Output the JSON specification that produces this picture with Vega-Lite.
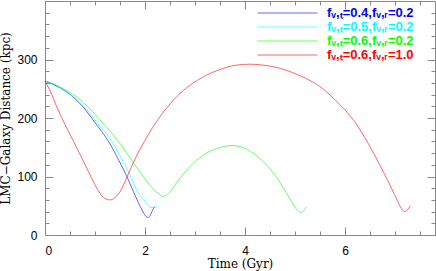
{
  "$schema": "https://vega.github.io/schema/vega-lite/v6.json",
  "width": 390,
  "height": 234,
  "autosize": "none",
  "padding": {"left": 45, "top": 1, "right": 1, "bottom": 36},
  "background": "white",
  "config": {
    "view": {"stroke": null},
    "axis": {
      "grid": false,
      "domainColor": "#888888",
      "tickColor": "#888888",
      "labelColor": "#000000",
      "labelFont": "Liberation Sans",
      "labelFontSize": 12,
      "titleFont": "DejaVu Serif",
      "titleFontSize": 12,
      "titleFontWeight": "normal",
      "titleColor": "#000000"
    }
  },
  "data": {
    "values": [
      {"s": "fᵥ,ₜ=0.4,fᵥ,ᵣ=0.2", "t": 0, "d": 263},
      {"s": "fᵥ,ₜ=0.4,fᵥ,ᵣ=0.2", "t": 0.2, "d": 256},
      {"s": "fᵥ,ₜ=0.4,fᵥ,ᵣ=0.2", "t": 0.405, "d": 246},
      {"s": "fᵥ,ₜ=0.4,fᵥ,ᵣ=0.2", "t": 0.6, "d": 233},
      {"s": "fᵥ,ₜ=0.4,fᵥ,ᵣ=0.2", "t": 0.77, "d": 218},
      {"s": "fᵥ,ₜ=0.4,fᵥ,ᵣ=0.2", "t": 1.0, "d": 192},
      {"s": "fᵥ,ₜ=0.4,fᵥ,ᵣ=0.2", "t": 1.27, "d": 160},
      {"s": "fᵥ,ₜ=0.4,fᵥ,ᵣ=0.2", "t": 1.45, "d": 132},
      {"s": "fᵥ,ₜ=0.4,fᵥ,ᵣ=0.2", "t": 1.62, "d": 103},
      {"s": "fᵥ,ₜ=0.4,fᵥ,ᵣ=0.2", "t": 1.77, "d": 74},
      {"s": "fᵥ,ₜ=0.4,fᵥ,ᵣ=0.2", "t": 1.92, "d": 46},
      {"s": "fᵥ,ₜ=0.4,fᵥ,ᵣ=0.2", "t": 2.0, "d": 34},
      {"s": "fᵥ,ₜ=0.4,fᵥ,ᵣ=0.2", "t": 2.05, "d": 30},
      {"s": "fᵥ,ₜ=0.4,fᵥ,ᵣ=0.2", "t": 2.1, "d": 33},
      {"s": "fᵥ,ₜ=0.4,fᵥ,ᵣ=0.2", "t": 2.15, "d": 42},
      {"s": "fᵥ,ₜ=0.4,fᵥ,ᵣ=0.2", "t": 2.19, "d": 49},

      {"s": "fᵥ,ₜ=0.5,fᵥ,ᵣ=0.2", "t": 0, "d": 263},
      {"s": "fᵥ,ₜ=0.5,fᵥ,ᵣ=0.2", "t": 0.2, "d": 257},
      {"s": "fᵥ,ₜ=0.5,fᵥ,ᵣ=0.2", "t": 0.4, "d": 247},
      {"s": "fᵥ,ₜ=0.5,fᵥ,ᵣ=0.2", "t": 0.6, "d": 234},
      {"s": "fᵥ,ₜ=0.5,fᵥ,ᵣ=0.2", "t": 0.8, "d": 218},
      {"s": "fᵥ,ₜ=0.5,fᵥ,ᵣ=0.2", "t": 1.05, "d": 191},
      {"s": "fᵥ,ₜ=0.5,fᵥ,ᵣ=0.2", "t": 1.34, "d": 160},
      {"s": "fᵥ,ₜ=0.5,fᵥ,ᵣ=0.2", "t": 1.52, "d": 132},
      {"s": "fᵥ,ₜ=0.5,fᵥ,ᵣ=0.2", "t": 1.7, "d": 103},
      {"s": "fᵥ,ₜ=0.5,fᵥ,ᵣ=0.2", "t": 1.85, "d": 74},
      {"s": "fᵥ,ₜ=0.5,fᵥ,ᵣ=0.2", "t": 2.0, "d": 58},
      {"s": "fᵥ,ₜ=0.5,fᵥ,ᵣ=0.2", "t": 2.08, "d": 49},
      {"s": "fᵥ,ₜ=0.5,fᵥ,ᵣ=0.2", "t": 2.12, "d": 47},
      {"s": "fᵥ,ₜ=0.5,fᵥ,ᵣ=0.2", "t": 2.18, "d": 47},
      {"s": "fᵥ,ₜ=0.5,fᵥ,ᵣ=0.2", "t": 2.24, "d": 49},

      {"s": "fᵥ,ₜ=0.6,fᵥ,ᵣ=0.2", "t": 0, "d": 263},
      {"s": "fᵥ,ₜ=0.6,fᵥ,ᵣ=0.2", "t": 0.2, "d": 257},
      {"s": "fᵥ,ₜ=0.6,fᵥ,ᵣ=0.2", "t": 0.45, "d": 246},
      {"s": "fᵥ,ₜ=0.6,fᵥ,ᵣ=0.2", "t": 0.65, "d": 235},
      {"s": "fᵥ,ₜ=0.6,fᵥ,ᵣ=0.2", "t": 0.87, "d": 218},
      {"s": "fᵥ,ₜ=0.6,fᵥ,ᵣ=0.2", "t": 1.15, "d": 192},
      {"s": "fᵥ,ₜ=0.6,fᵥ,ᵣ=0.2", "t": 1.47, "d": 160},
      {"s": "fᵥ,ₜ=0.6,fᵥ,ᵣ=0.2", "t": 1.7, "d": 132},
      {"s": "fᵥ,ₜ=0.6,fᵥ,ᵣ=0.2", "t": 1.94, "d": 103},
      {"s": "fᵥ,ₜ=0.6,fᵥ,ᵣ=0.2", "t": 2.15, "d": 80},
      {"s": "fᵥ,ₜ=0.6,fᵥ,ᵣ=0.2", "t": 2.3, "d": 69},
      {"s": "fᵥ,ₜ=0.6,fᵥ,ᵣ=0.2", "t": 2.36, "d": 66},
      {"s": "fᵥ,ₜ=0.6,fᵥ,ᵣ=0.2", "t": 2.45, "d": 69},
      {"s": "fᵥ,ₜ=0.6,fᵥ,ᵣ=0.2", "t": 2.67, "d": 94},
      {"s": "fᵥ,ₜ=0.6,fᵥ,ᵣ=0.2", "t": 2.97, "d": 123},
      {"s": "fᵥ,ₜ=0.6,fᵥ,ᵣ=0.2", "t": 3.23, "d": 140},
      {"s": "fᵥ,ₜ=0.6,fᵥ,ᵣ=0.2", "t": 3.45, "d": 148},
      {"s": "fᵥ,ₜ=0.6,fᵥ,ᵣ=0.2", "t": 3.73, "d": 153},
      {"s": "fᵥ,ₜ=0.6,fᵥ,ᵣ=0.2", "t": 3.95, "d": 150},
      {"s": "fᵥ,ₜ=0.6,fᵥ,ᵣ=0.2", "t": 4.16, "d": 140},
      {"s": "fᵥ,ₜ=0.6,fᵥ,ᵣ=0.2", "t": 4.28, "d": 132},
      {"s": "fᵥ,ₜ=0.6,fᵥ,ᵣ=0.2", "t": 4.5, "d": 113},
      {"s": "fᵥ,ₜ=0.6,fᵥ,ᵣ=0.2", "t": 4.7, "d": 90},
      {"s": "fᵥ,ₜ=0.6,fᵥ,ᵣ=0.2", "t": 4.9, "d": 62},
      {"s": "fᵥ,ₜ=0.6,fᵥ,ᵣ=0.2", "t": 5.05, "d": 42},
      {"s": "fᵥ,ₜ=0.6,fᵥ,ᵣ=0.2", "t": 5.12, "d": 38},
      {"s": "fᵥ,ₜ=0.6,fᵥ,ᵣ=0.2", "t": 5.18, "d": 42},
      {"s": "fᵥ,ₜ=0.6,fᵥ,ᵣ=0.2", "t": 5.23, "d": 48},

      {"s": "fᵥ,ₜ=0.6,fᵥ,ᵣ=1.0", "t": 0, "d": 263},
      {"s": "fᵥ,ₜ=0.6,fᵥ,ᵣ=1.0", "t": 0.1, "d": 247},
      {"s": "fᵥ,ₜ=0.6,fᵥ,ᵣ=1.0", "t": 0.24, "d": 218},
      {"s": "fᵥ,ₜ=0.6,fᵥ,ᵣ=1.0", "t": 0.4, "d": 189},
      {"s": "fᵥ,ₜ=0.6,fᵥ,ᵣ=1.0", "t": 0.57, "d": 160},
      {"s": "fᵥ,ₜ=0.6,fᵥ,ᵣ=1.0", "t": 0.74, "d": 131},
      {"s": "fᵥ,ₜ=0.6,fᵥ,ᵣ=1.0", "t": 0.9, "d": 103},
      {"s": "fᵥ,ₜ=0.6,fᵥ,ᵣ=1.0", "t": 1.05, "d": 78},
      {"s": "fᵥ,ₜ=0.6,fᵥ,ᵣ=1.0", "t": 1.17, "d": 64},
      {"s": "fᵥ,ₜ=0.6,fᵥ,ᵣ=1.0", "t": 1.3, "d": 60},
      {"s": "fᵥ,ₜ=0.6,fᵥ,ᵣ=1.0", "t": 1.4, "d": 64},
      {"s": "fᵥ,ₜ=0.6,fᵥ,ᵣ=1.0", "t": 1.5, "d": 74},
      {"s": "fᵥ,ₜ=0.6,fᵥ,ᵣ=1.0", "t": 1.65, "d": 101},
      {"s": "fᵥ,ₜ=0.6,fᵥ,ᵣ=1.0", "t": 1.8, "d": 130},
      {"s": "fᵥ,ₜ=0.6,fᵥ,ᵣ=1.0", "t": 1.98, "d": 159},
      {"s": "fᵥ,ₜ=0.6,fᵥ,ᵣ=1.0", "t": 2.2, "d": 190},
      {"s": "fᵥ,ₜ=0.6,fᵥ,ᵣ=1.0", "t": 2.45, "d": 219},
      {"s": "fᵥ,ₜ=0.6,fᵥ,ᵣ=1.0", "t": 2.7, "d": 242},
      {"s": "fᵥ,ₜ=0.6,fᵥ,ᵣ=1.0", "t": 2.95, "d": 259},
      {"s": "fᵥ,ₜ=0.6,fᵥ,ᵣ=1.0", "t": 3.2, "d": 272},
      {"s": "fᵥ,ₜ=0.6,fᵥ,ᵣ=1.0", "t": 3.5, "d": 283},
      {"s": "fᵥ,ₜ=0.6,fᵥ,ᵣ=1.0", "t": 3.8, "d": 290},
      {"s": "fᵥ,ₜ=0.6,fᵥ,ᵣ=1.0", "t": 4.1, "d": 292},
      {"s": "fᵥ,ₜ=0.6,fᵥ,ᵣ=1.0", "t": 4.4, "d": 290},
      {"s": "fᵥ,ₜ=0.6,fᵥ,ᵣ=1.0", "t": 4.7, "d": 285},
      {"s": "fᵥ,ₜ=0.6,fᵥ,ᵣ=1.0", "t": 5.0, "d": 276},
      {"s": "fᵥ,ₜ=0.6,fᵥ,ᵣ=1.0", "t": 5.3, "d": 264},
      {"s": "fᵥ,ₜ=0.6,fᵥ,ᵣ=1.0", "t": 5.56, "d": 250},
      {"s": "fᵥ,ₜ=0.6,fᵥ,ᵣ=1.0", "t": 5.8, "d": 231},
      {"s": "fᵥ,ₜ=0.6,fᵥ,ᵣ=1.0", "t": 6.0, "d": 214},
      {"s": "fᵥ,ₜ=0.6,fᵥ,ᵣ=1.0", "t": 6.19, "d": 194},
      {"s": "fᵥ,ₜ=0.6,fᵥ,ᵣ=1.0", "t": 6.4, "d": 166},
      {"s": "fᵥ,ₜ=0.6,fᵥ,ᵣ=1.0", "t": 6.59, "d": 137},
      {"s": "fᵥ,ₜ=0.6,fᵥ,ᵣ=1.0", "t": 6.76, "d": 109},
      {"s": "fᵥ,ₜ=0.6,fᵥ,ᵣ=1.0", "t": 6.93, "d": 80},
      {"s": "fᵥ,ₜ=0.6,fᵥ,ᵣ=1.0", "t": 7.05, "d": 58},
      {"s": "fᵥ,ₜ=0.6,fᵥ,ᵣ=1.0", "t": 7.13, "d": 45},
      {"s": "fᵥ,ₜ=0.6,fᵥ,ᵣ=1.0", "t": 7.19, "d": 40},
      {"s": "fᵥ,ₜ=0.6,fᵥ,ᵣ=1.0", "t": 7.25, "d": 43},
      {"s": "fᵥ,ₜ=0.6,fᵥ,ᵣ=1.0", "t": 7.31, "d": 50}
    ]
  },
  "layer": [
    {
      "mark": {"type": "line", "strokeWidth": 1, "opacity": 0.6, "interpolate": "monotone"},
      "encoding": {
        "x": {
          "field": "t", "type": "quantitative",
          "scale": {"domain": [0, 7.8], "nice": false, "zero": false},
          "axis": {
            "orient": "bottom",
            "title": "Time (Gyr)",
            "values": [0, 0.5, 1, 1.5, 2, 2.5, 3, 3.5, 4, 4.5, 5, 5.5, 6, 6.5, 7, 7.5],
            "labelExpr": "datum.value % 2 === 0 ? format(datum.value, 'd') : ''",
            "tickSize": {"condition": {"test": "datum.value % 2 === 0", "value": -8}, "value": -4},
            "labelPadding": 18,
            "titlePadding": 2
          }
        },
        "y": {
          "field": "d", "type": "quantitative",
          "scale": {"domain": [0, 400], "nice": false},
          "axis": {
            "orient": "left",
            "title": "LMC−Galaxy Distance (kpc)",
            "values": [0, 20, 40, 60, 80, 100, 120, 140, 160, 180, 200, 220, 240, 260, 280, 300, 320, 340, 360, 380],
            "labelExpr": "datum.value % 100 === 0 ? format(datum.value, 'd') : ''",
            "tickSize": {"condition": {"test": "datum.value % 100 === 0", "value": -8}, "value": -4},
            "labelPadding": 16,
            "titlePadding": 4
          }
        },
        "color": {
          "field": "s", "type": "nominal",
          "sort": ["fᵥ,ₜ=0.4,fᵥ,ᵣ=0.2", "fᵥ,ₜ=0.5,fᵥ,ᵣ=0.2", "fᵥ,ₜ=0.6,fᵥ,ᵣ=0.2", "fᵥ,ₜ=0.6,fᵥ,ᵣ=1.0"],
          "scale": {
            "domain": ["fᵥ,ₜ=0.4,fᵥ,ᵣ=0.2", "fᵥ,ₜ=0.5,fᵥ,ᵣ=0.2", "fᵥ,ₜ=0.6,fᵥ,ᵣ=0.2", "fᵥ,ₜ=0.6,fᵥ,ᵣ=1.0"],
            "range": ["#0000ff", "#00ffff", "#00ff00", "#ff0000"]
          },
          "legend": {
            "orient": "none",
            "legendX": 236,
            "legendY": 5.5,
            "title": null,
            "symbolType": "M-10,0H10",
            "symbolSize": 36,
            "symbolStrokeWidth": 1,
            "symbolOpacity": 0.6,
            "labelFont": "Liberation Sans",
            "labelFontSize": 13,
            "labelFontWeight": "bold",
            "labelOffset": 33,
            "rowPadding": -5,
            "padding": 0,
            "encode": {
              "labels": {"update": {"fill": {"signal": "scale('color', datum.value)"}}}
            }
          }
        }
      }
    },
    {
      "mark": {"type": "line", "opacity": 0},
      "encoding": {
        "x": {
          "field": "t", "type": "quantitative",
          "axis": {
            "orient": "top",
            "title": null,
            "labels": false,
            "values": [0, 0.5, 1, 1.5, 2, 2.5, 3, 3.5, 4, 4.5, 5, 5.5, 6, 6.5, 7, 7.5],
            "tickSize": {"condition": {"test": "datum.value % 2 === 0", "value": -8}, "value": -4}
          }
        },
        "y": {
          "field": "d", "type": "quantitative",
          "axis": {
            "orient": "right",
            "title": null,
            "labels": false,
            "values": [0, 20, 40, 60, 80, 100, 120, 140, 160, 180, 200, 220, 240, 260, 280, 300, 320, 340, 360, 380],
            "tickSize": {"condition": {"test": "datum.value % 100 === 0", "value": -8}, "value": -4}
          }
        },
        "detail": {"field": "s", "type": "nominal"}
      }
    }
  ],
  "resolve": {"axis": {"x": "independent", "y": "independent"}}
}
